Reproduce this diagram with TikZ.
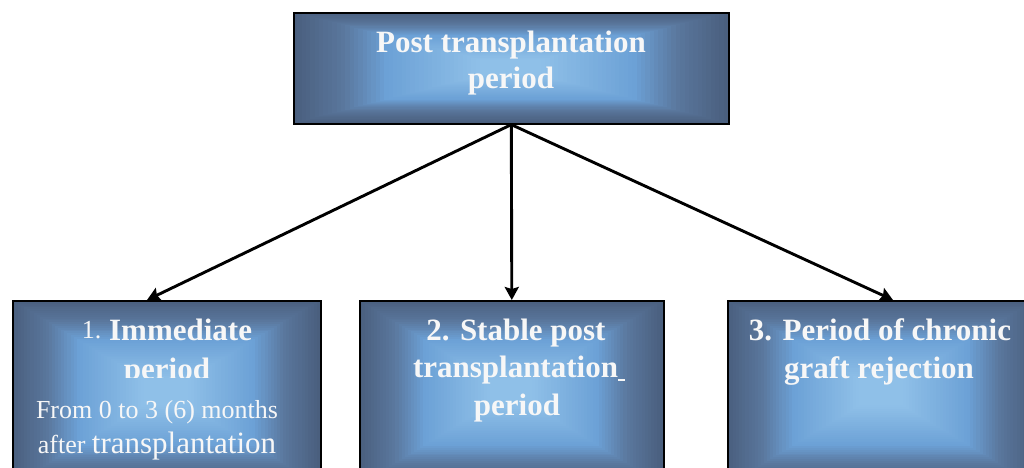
\documentclass[tikz,border=0pt]{standalone}
\usepackage{fontspec}
\setmainfont{Liberation Serif}
\usetikzlibrary{arrows.meta}
\definecolor{cLight}{HTML}{8FC0E8}
\definecolor{cMid}{HTML}{6CA1D6}
\definecolor{cGray}{HTML}{5A779D}
\definecolor{cDark}{HTML}{4A5F7E}
\definecolor{txtwhite}{HTML}{F7F7F7}
% rectangular ("from centre") gradient filling a box
\newcommand{\gradbox}[4]{%
  \foreach \i in {0,...,50}{%
    \pgfmathsetmacro{\f}{\i/50}%
    \ifdim\f pt<0.22pt
      \pgfmathtruncatemacro{\p}{100*\f/0.22}%
      \colorlet{gcol}{cGray!\p!cDark}%
    \else\ifdim\f pt<0.42pt
      \pgfmathtruncatemacro{\p}{100*(\f-0.22)/0.2}%
      \colorlet{gcol}{cMid!\p!cGray}%
    \else
      \pgfmathtruncatemacro{\p}{min(100,100*(\f-0.42)/0.43)}%
      \colorlet{gcol}{cLight!\p!cMid}%
    \fi\fi
    \fill[gcol]
      ({#1+\f*(#3-#1)/2},{#2+\f*(#4-#2)/2}) rectangle
      ({#3-\f*(#3-#1)/2},{#4-\f*(#4-#2)/2});
  }%
}
\begin{document}
\begin{tikzpicture}[x=1pt,y=-1pt,
  box/.style={draw=black, line width=1.6pt, anchor=north west, inner sep=0pt},
  txt/.style={text=txtwhite, anchor=base, inner sep=0pt, font=\bfseries\fontsize{31}{37}\selectfont},
  small/.style={text=txtwhite, anchor=base, inner sep=0pt, font=\fontsize{26}{30}\selectfont},
  conn/.style={line width=2.9pt, -{Stealth[length=13pt,width=14pt,inset=2pt]}}]
\clip (0,0) rectangle (1024,467);
% gradient fills
\gradbox{293}{12}{728}{123}
\gradbox{12}{300}{320}{485}
\gradbox{359}{300}{663}{485}
\gradbox{727}{300}{1035}{485}
% boxes
\node[box, minimum width=435pt, minimum height=111pt] (top) at (293,12) {};
\node[box, minimum width=308pt, minimum height=185pt] (b1) at (12,300) {};
\node[box, minimum width=304pt, minimum height=185pt] (b2) at (359,300) {};
\node[box, minimum width=308pt, minimum height=185pt] (b3) at (727,300) {};
% texts
\node[txt] (t1) at (511,52) {Post transplantation};
\node[txt] (t2) at (511,88) {period};
\node[txt] (b1a) at (167,340) {\raisebox{2pt}{\mdseries\fontsize{26}{30}\selectfont 1.} Immediate};
\begin{scope}
  \clip (0,300) rectangle (340,377);
  \node[txt] (b1b) at (167,379) {period};
\end{scope}
\node[small] (b1c) at (157,418) {From 0 to 3 (6) months};
\node[small] (b1d) at (157,453) {after {\fontsize{31}{37}\selectfont transplantation}};
\node[txt] (b2a) at (516,340) {2. Stable post};
\node[txt] (b2b) at (519,377) {transplantation\rule[-4pt]{7pt}{2pt}};
\node[txt] (b2c) at (517,415) {period};
\node[txt] (b3a) at (880,340) {3. Period of chronic};
\node[txt] (b3b) at (879,378) {graft rejection};
% connectors
\coordinate (e1) at (147,300);
\coordinate (e3) at (893,300);
\draw[conn] (top.south) -- (e1);
\draw[conn] (top.south) -- (b2.north);
\draw[conn] (top.south) -- (e3);
\end{tikzpicture}
\end{document}
